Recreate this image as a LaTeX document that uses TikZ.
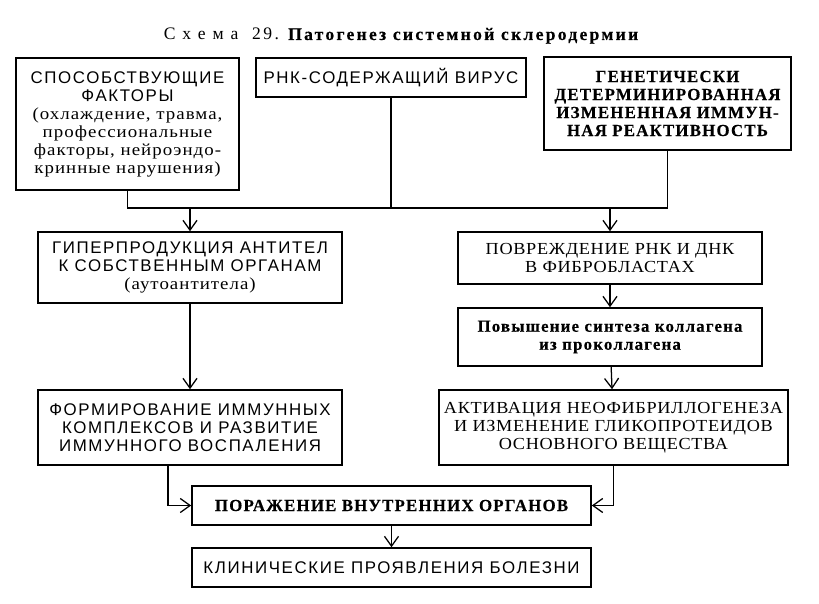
\documentclass[tikz,border=0pt]{standalone}
\usepackage{fontspec}
\setmainfont{Liberation Serif}
\setsansfont{Liberation Sans}
\newfontfamily\capsans[LetterSpace=9.5]{Liberation Sans}
\newfontfamily\capserif[FakeStretch=1.08, LetterSpace=4]{Liberation Serif}
\newfontfamily\lowserif[FakeStretch=1.12, LetterSpace=6]{Liberation Serif}
\newfontfamily\boldserif[LetterSpace=7, FakeBold=0.3]{Liberation Serif}
\newfontfamily\titleserif[LetterSpace=14]{Liberation Serif}
\newfontfamily\titlebold[LetterSpace=13, FakeBold=0.3]{Liberation Serif}
\usetikzlibrary{arrows.meta}

\tikzset{
  blk/.style={draw, line width=1.1pt, inner sep=0pt, align=center,
    font=\fontsize{12}{12.8}\selectfont},
  wire/.style={line width=0.9pt},
  arr/.style={wire, -{Straight Barb[length=7pt,width=10pt,line width=0.9pt]}}
}

\begin{document}
\begin{tikzpicture}[x=0.025cm,y=-0.025cm]
\useasboundingbox (0,0) rectangle (819,603);

% title
\node[anchor=base, font=\fontsize{12.5}{14}\selectfont] (title) at (401,40)
  {\titleserif С х е м а \ 29. \titlebold\bfseries Патогенез системной склеродермии};

% top row
\node[blk, minimum width=5.575cm, minimum height=3.3cm] (fac) at (127.5,124)
  {\capsans СПОСОБСТВУЮЩИЕ\\\capsans ФАКТОРЫ\\
   \lowserif (охлаждение, травма,\\\lowserif профессиональные\\
   \lowserif факторы, нейроэндо-\\\lowserif кринные нарушения)};
\node[blk, minimum width=6.75cm, minimum height=0.975cm] (vir) at (391,77.5)
  {\capsans РНК-СОДЕРЖАЩИЙ ВИРУС};
\node[blk, minimum width=6.175cm, minimum height=2.325cm] (gen) at (667.5,103.5)
  {\boldserif\bfseries ГЕНЕТИЧЕСКИ\\\boldserif\bfseries ДЕТЕРМИНИРОВАННАЯ\\
   \boldserif\bfseries ИЗМЕНЕННАЯ ИММУН-\\\boldserif\bfseries НАЯ РЕАКТИВНОСТЬ};

% left branch
\node[blk, minimum width=7.6cm, minimum height=1.775cm] (hyp) at (190,267.5)
  {\capsans ГИПЕРПРОДУКЦИЯ АНТИТЕЛ\\\capsans К СОБСТВЕННЫМ ОРГАНАМ\\
   \lowserif (аутоантитела)};
\node[blk, minimum width=7.6cm, minimum height=1.875cm] (imm) at (190,427.5)
  {\capsans ФОРМИРОВАНИЕ ИММУННЫХ\\\capsans КОМПЛЕКСОВ И РАЗВИТИЕ\\
   \capsans ИММУННОГО ВОСПАЛЕНИЯ};

% right branch
\node[blk, minimum width=7.6cm, minimum height=1.3cm] (dmg) at (610,258)
  {\capserif ПОВРЕЖДЕНИЕ РНК И ДНК\\\capserif В ФИБРОБЛАСТАХ};
\node[blk, minimum width=7.6cm, minimum height=1.45cm] (syn) at (610,337)
  {\boldserif\bfseries Повышение синтеза коллагена\\\boldserif\bfseries из проколлагена};
\node[blk, minimum width=8.725cm, minimum height=1.875cm] (act) at (613.5,427.5)
  {\capserif АКТИВАЦИЯ НЕОФИБРИЛЛОГЕНЕЗА\\\capserif И ИЗМЕНЕНИЕ ГЛИКОПРОТЕИДОВ\\
   \capserif ОСНОВНОГО ВЕЩЕСТВА};

% bottom
\node[blk, minimum width=9.975cm, minimum height=0.975cm] (org) at (391.5,505.5)
  {\boldserif\bfseries ПОРАЖЕНИЕ ВНУТРЕННИХ ОРГАНОВ};
\node[blk, minimum width=9.975cm, minimum height=0.975cm] (cli) at (391.5,567.5)
  {\capsans КЛИНИЧЕСКИЕ ПРОЯВЛЕНИЯ БОЛЕЗНИ};

% connectors
\coordinate (bus) at (0,208);
\draw[wire] (fac.south) -- (fac.south |- bus) -- (gen.south |- bus) -- (gen.south);
\draw[wire] (vir.south) -- (vir.south |- bus);
\draw[arr] (hyp.north |- bus) -- (hyp.north);
\draw[arr] (dmg.north |- bus) -- (dmg.north);
\draw[arr] (hyp) -- (imm);
\draw[arr] (dmg) -- (syn);
\draw[arr] (syn) -- (act);
\draw[arr] ([xshift=-0.55cm]imm.south) |- (org.west);
\draw[arr] (act.south) |- (org.east);
\draw[arr] (org) -- (cli);
\end{tikzpicture}
\end{document}
